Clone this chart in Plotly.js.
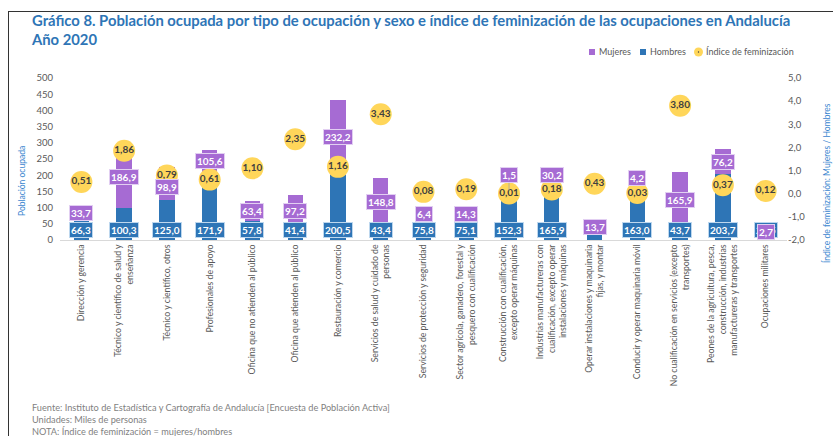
<!DOCTYPE html>
<html>
<head>
<meta charset="utf-8">
<script src="https://cdn.plot.ly/plotly-3.0.1.min.js"></script>
<style>
  html, body { margin: 0; padding: 0; background: #fff; }
  #wrap { position: relative; width: 833px; height: 436px; overflow: hidden; }
  #chart { position: absolute; left: 0; top: 0; width: 833px; height: 436px; }
  #frame { position: absolute; left: 8px; top: 11px; width: 900px; height: 500px;
           border-left: 1.5px solid #333; border-top: 1.5px solid #333; pointer-events: none; }
</style>
</head>
<body>
<div id="wrap">
  <div id="chart"></div>
  <div id="frame"></div>
</div>
<script>
const categorias = [
  "Dirección y gerencia",
  "Técnico y científico de salud y<br>enseñanza",
  "Técnico y científico, otros",
  "Profesionales de apoyo",
  "Oficina que no atienden al público",
  "Oficina que atienden al público",
  "Restauración y comercio",
  "Servicios de salud y cuidado de<br>personas",
  "Servicios de protección y seguridad",
  "Sector agrícola, ganadero, forestal y<br>pesquero con cualificación",
  "Construcción con cualificación,<br>excepto operar máquinas",
  "Industrias manufactureras con<br>cualificación, excepto operar<br>instalaciones y máquinas",
  "Operar instalaciones y maquinaria<br>fijas, y montar",
  "Conducir y operar maquinaria móvil",
  "No cualificación en servicios (excepto<br>transportes)",
  "Peones de la agricultura, pesca,<br>construcción, industrias<br>manufactureras y transportes",
  "Ocupaciones militares"
];
const mujeres = [33.7, 186.9, 98.9, 105.6, 63.4, 97.2, 232.2, 148.8, 6.4, 14.3, 1.5, 30.2, 13.7, 4.2, 165.9, 76.2, 2.7];
const hombres = [66.3, 100.3, 125.0, 171.9, 57.8, 41.4, 200.5, 43.4, 75.8, 75.1, 152.3, 165.9, 31.9, 163.0, 43.7, 203.7, 22.5];
const indice  = [0.51, 1.86, 0.79, 0.61, 1.10, 2.35, 1.16, 3.43, 0.08, 0.19, 0.01, 0.18, 0.43, 0.03, 3.80, 0.37, 0.12];
// label shown for hombres (hidden in the original for "Operar instalaciones")
const mostrarEtiquetaHombres = [1,1,1,1,1,1,1,1,1,1,1,1,0,1,1,1,1];
// manual nudges (in pixels, upward) of the mujeres labels, as in the original
const ajusteEtiquetaMujeres = [0, 0, -3.5, 6, 0, 0, 0, 0, 0, -1, 15, 6, 0, 9, -1, 0, 0];

const yTicks = [0, 50, 100, 150, 200, 250, 300, 350, 400, 450, 500];
const y2Ticks = [-2, -1, 0, 1, 2, 3, 4, 5];
const y2TickText = ["-2,0", "-1,0", "0,0", "1,0", "2,0", "3,0", "4,0", "5,0"];
const leyenda = ["Mujeres", "Hombres", "Índice de feminización"];

const AZUL = "#2E75B6", MORADO = "#A66BD3", AMARILLO = "#FFD65A";
const FONT = "Lato, 'Open Sans', sans-serif";
const fmt1 = v => v.toFixed(1).replace(".", ",");
const fmt2 = v => v.toFixed(2).replace(".", ",");

// plot area geometry (pixels) for placing paper-referenced decorations
const M = { l: 60, r: 46, t: 78, b: 196 };
const PW = 833 - M.l - M.r, PH = 436 - M.t - M.b;
const px2x = px => (px - M.l) / PW;
const px2y = py => (436 - M.b - py) / PH;

const traces = [
  { type: "bar", name: leyenda[1], x: categorias, y: hombres, marker: { color: AZUL },
    width: 0.36, hoverinfo: "skip" },
  { type: "bar", name: leyenda[0], x: categorias, y: mujeres, marker: { color: MORADO },
    width: 0.36, hoverinfo: "skip" },
  { type: "scatter", mode: "markers+text", name: leyenda[2], x: categorias, y: indice,
    yaxis: "y2", hoverinfo: "skip",
    marker: { color: AMARILLO, size: 22, line: { width: 0 } },
    text: indice.map(fmt2), textposition: "middle center",
    textfont: { family: FONT, size: 10, color: "#404040", weight: "bold" } }
];

const annotations = [];
categorias.forEach((c, i) => {
  if (mostrarEtiquetaHombres[i]) {
    annotations.push({ x: c, y: 0, xref: "x", yref: "y", yanchor: "bottom", yshift: 2,
      text: fmt1(hombres[i]), showarrow: false, bgcolor: AZUL, bordercolor: "#BDD7EE",
      borderwidth: 1, borderpad: 1,
      font: { family: FONT, size: 10, color: "#ffffff", weight: "bold" } });
  }
});
categorias.forEach((c, i) => {
  const a = { x: c, y: hombres[i] + mujeres[i] / 2, xref: "x", yref: "y",
    text: fmt1(mujeres[i]), bgcolor: MORADO, bordercolor: "#E2CFF2",
    borderwidth: 1, borderpad: 1,
    font: { family: FONT, size: 10, color: "#ffffff", weight: "bold" } };
  if (ajusteEtiquetaMujeres[i] > 10) {
    Object.assign(a, { showarrow: true, ax: 0, ay: -ajusteEtiquetaMujeres[i], arrowhead: 0,
      arrowwidth: 0.8, arrowcolor: "#A6A6A6", standoff: 0 });
  } else {
    Object.assign(a, { showarrow: false, yanchor: "middle", yshift: ajusteEtiquetaMujeres[i] });
  }
  annotations.push(a);
});
// axis titles
annotations.push({ xref: "paper", yref: "paper", x: px2x(22), y: px2y(181), textangle: -90,
  text: "Población ocupada", showarrow: false, xanchor: "center", yanchor: "middle",
  font: { family: FONT, size: 8.5, color: "#3A86CF" } });
annotations.push({ xref: "paper", yref: "paper", x: px2x(826), y: px2y(183), textangle: -90,
  text: "Índice de feminización: Mujeres / Hombres", showarrow: false, xanchor: "center", yanchor: "middle",
  font: { family: FONT, size: 8.5, color: "#3A86CF" } });
// footer
annotations.push({ xref: "paper", yref: "paper", x: px2x(30), y: px2y(399.5), xanchor: "left", yanchor: "top",
  align: "left", showarrow: false,
  text: "Fuente: Instituto de Estadística y Cartografía de Andalucía [Encuesta de Población Activa]<br>Unidades: Miles de personas<br>NOTA: Índice de feminización = mujeres/hombres",
  font: { family: FONT, size: 9.2, color: "#7F7F7F" } });

// legend (drawn by hand to match the compact spacing of the original)
const legFont = { family: FONT, size: 9, color: "#595959" };
const legY = 52;
const legItems = [
  { label: leyenda[0], sym: "square", color: MORADO, x0: 589 },
  { label: leyenda[1], sym: "square", color: AZUL, x0: 640 },
  { label: leyenda[2], sym: "circle", color: AMARILLO, x0: 694 }
];
const shapes = [];
legItems.forEach(it => {
  if (it.sym === "square") {
    shapes.push({ type: "rect", xref: "paper", yref: "paper", x0: px2x(it.x0), x1: px2x(it.x0 + 6),
      y0: px2y(legY + 3), y1: px2y(legY - 3), fillcolor: it.color, line: { width: 0 } });
    annotations.push({ xref: "paper", yref: "paper", x: px2x(it.x0 + 8), y: px2y(legY), xanchor: "left",
      yanchor: "middle", showarrow: false, text: it.label, font: legFont });
  } else {
    shapes.push({ type: "circle", xref: "paper", yref: "paper", x0: px2x(it.x0), x1: px2x(it.x0 + 9),
      y0: px2y(legY + 4.5), y1: px2y(legY - 4.5), fillcolor: it.color, line: { width: 0 } });
    shapes.push({ type: "circle", xref: "paper", yref: "paper", x0: px2x(it.x0 + 3.8), x1: px2x(it.x0 + 5.2),
      y0: px2y(legY + 0.7), y1: px2y(legY - 0.7), fillcolor: "#404040", line: { width: 0 } });
    annotations.push({ xref: "paper", yref: "paper", x: px2x(it.x0 + 10), y: px2y(legY), xanchor: "left",
      yanchor: "middle", showarrow: false, text: it.label, font: legFont });
  }
});

const layout = {
  width: 833, height: 436,
  paper_bgcolor: "#ffffff", plot_bgcolor: "#ffffff",
  margin: Object.assign({ autoexpand: false }, M),
  font: { family: FONT, color: "#595959" },
  separators: ",.",
  barmode: "stack",
  title: {
    text: "Gráfico 8. Población ocupada por tipo de ocupación y sexo e índice de feminización de las ocupaciones en Andalucía<br>Año 2020",
    x: 32 / 833, xref: "container", xanchor: "left",
    y: 1 - 26 / 436, yref: "container", yanchor: "top",
    font: { family: FONT, size: 14.8, color: AZUL, weight: "bold" }
  },
  showlegend: false,
  xaxis: { type: "category", showgrid: false, showline: true, linecolor: "#D9D9D9", linewidth: 1,
    ticks: "", tickangle: -90, tickfont: { family: FONT, size: 8.7, color: "#595959" },
    range: [-0.5, categorias.length - 0.5], fixedrange: true },
  yaxis: { range: [0, 500], tickvals: yTicks, showgrid: false, zeroline: false, showline: false,
    ticks: "", tickfont: { family: FONT, size: 9.5, color: "#595959" }, ticklabelstandoff: 6 },
  yaxis2: { overlaying: "y", side: "right", range: [-2, 5], tickvals: y2Ticks, ticktext: y2TickText,
    showgrid: false, zeroline: false, showline: false, ticks: "",
    tickfont: { family: FONT, size: 9.5, color: "#595959" } },
  annotations: annotations,
  shapes: shapes
};

Plotly.newPlot("chart", traces, layout, { staticPlot: true, displayModeBar: false });
</script>
</body>
</html>
